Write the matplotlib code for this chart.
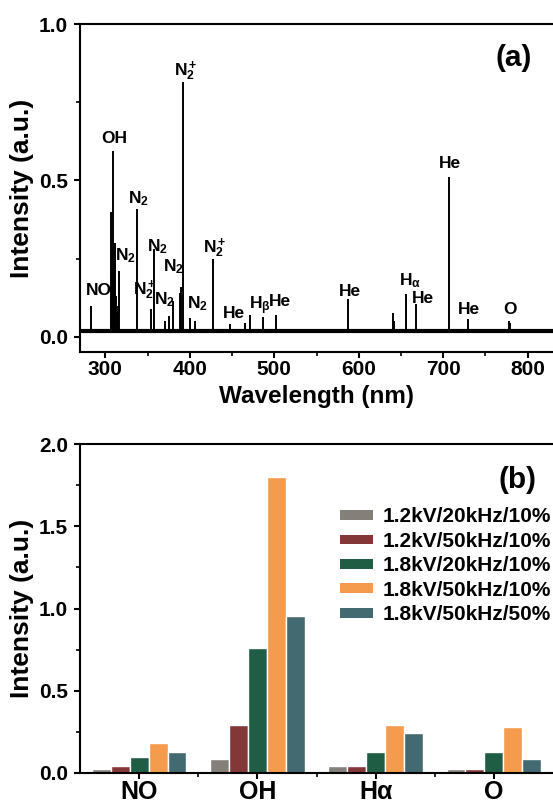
import matplotlib
matplotlib.use("Agg")
import matplotlib.pyplot as plt
from matplotlib.patches import Patch
from matplotlib.ticker import MultipleLocator, FormatStrFormatter
import numpy as np

plt.rcParams['font.family'] = ['Liberation Sans', 'DejaVu Sans']
plt.rcParams['font.weight'] = 'bold'
plt.rcParams['mathtext.fontset'] = 'custom'
plt.rcParams['mathtext.rm'] = 'Liberation Sans:bold'
plt.rcParams['mathtext.it'] = 'Liberation Sans:bold'
plt.rcParams['mathtext.bf'] = 'Liberation Sans:bold'
plt.rcParams['axes.linewidth'] = 1.5

# ---- (a) emission spectrum: peak positions (nm) and heights (a.u.)
wl_range = [270, 830]
baseline = 0.02
peak_wl = [283, 306.5, 307, 308, 309, 310, 311, 312, 313, 314, 315, 316,
           337, 353.5, 357.6, 371, 375.5, 380.5, 388, 389, 391.4, 400, 406,
           427.8, 447, 465, 471.5, 486.5, 501.6, 587.8, 640.5, 641.5,
           656.5, 668, 706.8, 729, 777.5, 779.5]
peak_h = [0.10, 0.12, 0.40, 0.20, 0.595, 0.25, 0.30, 0.12, 0.13, 0.08, 0.10, 0.21,
          0.41, 0.09, 0.28, 0.05, 0.067, 0.116, 0.14, 0.16, 0.814, 0.06, 0.05,
          0.25, 0.04, 0.045, 0.07, 0.065, 0.07, 0.12, 0.076, 0.05,
          0.136, 0.104, 0.512, 0.056, 0.05, 0.045]

# line labels: text, x (nm), y (a.u.)
line_labels = ["NO", "OH", r"N$_2$", r"N$_2$", r"N$_2^+$", r"N$_2$", r"N$_2$", r"N$_2$",
               r"N$_2^+$", r"N$_2$", r"N$_2^+$", "He", r"H$_\beta$", "He", "He",
               r"H$_\alpha$", "He", "He", "He", "O"]
label_x = [292, 310, 323.5, 339.5, 347, 362, 370.5, 381, 394.7, 408.5, 430,
           452, 483.4, 507, 589, 661, 676, 708, 730, 778.5]
label_y = [0.15, 0.635, 0.26, 0.443, 0.15, 0.29, 0.118, 0.225, 0.85, 0.108, 0.283,
           0.076, 0.10, 0.113, 0.145, 0.18, 0.124, 0.555, 0.088, 0.088]

# ---- (b) relative intensities
species = ["NO", "OH", "H\u03b1", "O"]
conditions = ["1.2kV/20kHz/10%", "1.2kV/50kHz/10%", "1.8kV/20kHz/10%",
              "1.8kV/50kHz/10%", "1.8kV/50kHz/50%"]
colors = ["#857f7a", "#843737", "#1f5d45", "#f49b4e", "#426a70"]
intensity = [
    [0.024, 0.085, 0.040, 0.026],
    [0.040, 0.290, 0.045, 0.022],
    [0.097, 0.760, 0.130, 0.125],
    [0.180, 1.800, 0.290, 0.280],
    [0.130, 0.955, 0.243, 0.083],
]

fig = plt.figure(figsize=(5.53, 8.06), dpi=100)
ax1 = fig.add_axes([80/553, (806-352)/806, 473/553, 328/806])
ax2 = fig.add_axes([80/553, (806-773)/806, 473/553, 329/806])

# spectrum
ax1.plot(wl_range, [baseline, baseline], color='black', lw=3)
ax1.vlines(peak_wl, baseline, peak_h, color='black', lw=1.4)
for t, x, y in zip(line_labels, label_x, label_y):
    ax1.text(x, y, t, ha='center', va='center', fontsize=12.5, fontweight='bold')
ax1.text(784, 0.89, "(a)", ha='center', va='center', fontsize=21.5, fontweight='bold')

ax1.set_xlim(wl_range)
ax1.set_ylim(-0.048, 1.0)
ax1.xaxis.set_major_locator(MultipleLocator(100))
ax1.xaxis.set_minor_locator(MultipleLocator(50))
ax1.yaxis.set_major_locator(MultipleLocator(0.5))
ax1.yaxis.set_minor_locator(MultipleLocator(0.25))
ax1.set_xlabel("Wavelength (nm)", fontsize=17.5, fontweight='bold', labelpad=4)
ax1.set_ylabel("Intensity (a.u.)", fontsize=19, fontweight='bold')
ax1.yaxis.set_label_coords(-0.098, 0.5)

# bars
x = np.arange(len(species))
w = 0.16
for i, (vals, c) in enumerate(zip(intensity, colors)):
    ax2.bar(x + (i - 2) * w, vals, width=w, color=c, edgecolor='white', lw=1.0)
handles = [Patch(facecolor=c, edgecolor='none') for c in colors]
ax2.legend(handles, conditions, loc='upper left', bbox_to_anchor=(0.5497, 0.807),
           frameon=False, fontsize=15, borderpad=0, borderaxespad=0,
           handlelength=1.6, handleheight=0.35, handletextpad=0.45,
           labelspacing=0.26)
ax2.text(3.2, 1.78, "(b)", ha='center', va='center', fontsize=21.5, fontweight='bold')

ax2.set_xlim(-0.5, 3.5)
ax2.set_ylim(0, 2.0)
ax2.set_xticks(x)
ax2.set_xticklabels(species, fontsize=18, fontweight='bold')
ax2.set_xticks([0.5, 1.5, 2.5], minor=True)
ax2.yaxis.set_major_locator(MultipleLocator(0.5))
ax2.yaxis.set_minor_locator(MultipleLocator(0.25))
ax2.set_ylabel("Intensity (a.u.)", fontsize=19, fontweight='bold')
ax2.yaxis.set_label_coords(-0.098, 0.5)

for ax in (ax1, ax2):
    ax.spines['right'].set_visible(False)
    ax.yaxis.set_major_formatter(FormatStrFormatter('%.1f'))
    ax.tick_params(which='major', direction='out', length=4.5, width=1.5,
                   labelsize=15, pad=4)
    ax.tick_params(which='minor', direction='out', length=3, width=1.2)
ax1.tick_params(axis='x', which='major', pad=1.5)
ax2.tick_params(axis='x', which='major', pad=0.5, labelsize=18)

fig.savefig("out.png", dpi=100)
